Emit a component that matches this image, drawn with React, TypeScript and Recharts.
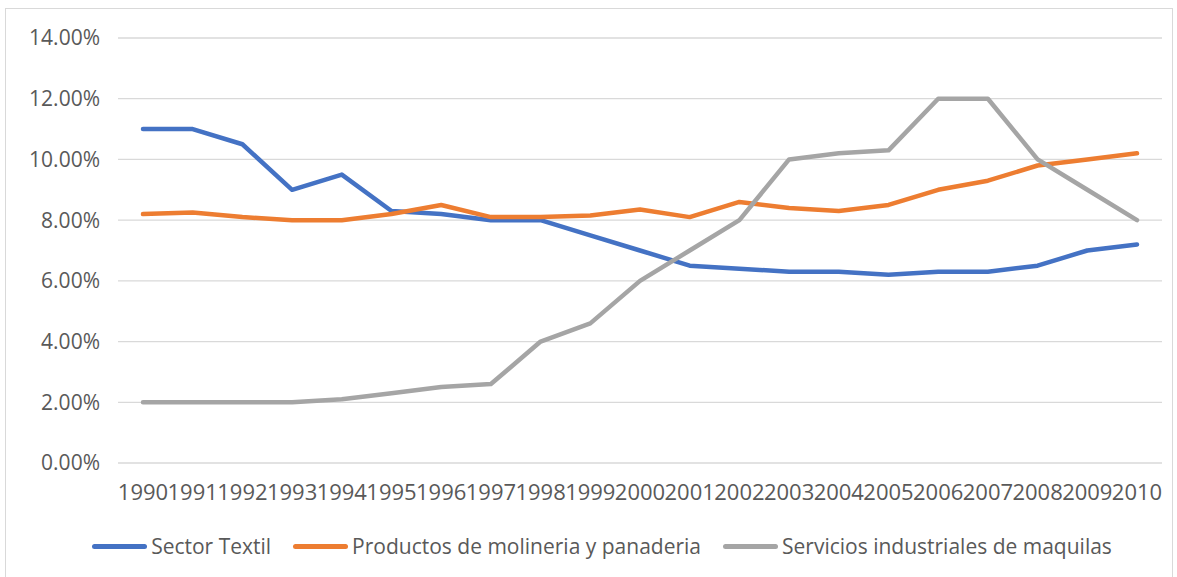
import React from 'react';
import { LineChart, Line, XAxis, YAxis, CartesianGrid, Legend } from 'recharts';

const years = ['1990', '1991', '1992', '1993', '1994', '1995', '1996', '1997', '1998', '1999', '2000',
  '2001', '2002', '2003', '2004', '2005', '2006', '2007', '2008', '2009', '2010'];

const sectorTextil = [11.0, 11.0, 10.5, 9.0, 9.5, 8.3, 8.2, 8.0, 8.0, 7.5, 7.0, 6.5, 6.4, 6.3, 6.3, 6.2, 6.3, 6.3, 6.5, 7.0, 7.2];
const molineria = [8.2, 8.25, 8.1, 8.0, 8.0, 8.2, 8.5, 8.1, 8.1, 8.15, 8.35, 8.1, 8.6, 8.4, 8.3, 8.5, 9.0, 9.3, 9.8, 10.0, 10.2];
const maquilas = [2.0, 2.0, 2.0, 2.0, 2.1, 2.3, 2.5, 2.6, 4.0, 4.6, 6.0, 7.0, 8.0, 10.0, 10.2, 10.3, 12.0, 12.0, 10.0, 9.0, 8.0];

const yTicks = [0, 2, 4, 6, 8, 10, 12, 14];

const series = [
  { key: 'textil', name: 'Sector Textil', color: '#4472C4' },
  { key: 'molineria', name: 'Productos de molineria y panaderia', color: '#ED7D31' },
  { key: 'maquilas', name: 'Servicios industriales de maquilas', color: '#A5A5A5' },
];

const data = years.map((year, i) => ({
  year,
  textil: sectorTextil[i],
  molineria: molineria[i],
  maquilas: maquilas[i],
}));

const FONT = '"Open Sans", sans-serif';
const TEXT = '#595959';

const renderLegend = () => (
  <div style={{ display: 'flex', justifyContent: 'center', alignItems: 'center', height: 40, paddingLeft: 36, fontFamily: FONT, fontSize: 21, color: TEXT, gap: 22 }}>
    {series.map((s) => (
      <div key={s.key} style={{ display: 'flex', alignItems: 'center' }}>
        <div style={{ width: 55, height: 5, borderRadius: 3, background: s.color, marginRight: 4 }} />
        <span>{s.name}</span>
      </div>
    ))}
  </div>
);

export default function App() {
  return (
    <div style={{ position: 'absolute', left: 5, top: 8, width: 1168, height: 575, border: '1px solid #d9d9d9', boxSizing: 'border-box', background: '#fff' }}>
      <LineChart width={1166} height={573} data={data} margin={{ top: 29, right: 10, bottom: 16, left: 0 }}>
        <CartesianGrid vertical={false} stroke="#d9d9d9" strokeWidth={1.3} />
        <XAxis
          dataKey="year"
          height={63}
          axisLine={false}
          tickLine={false}
          interval={0}
          padding={{ left: 25, right: 25 }}
          tick={{ fill: TEXT, fontSize: 22, fontFamily: FONT }}
          tickMargin={15}
        />
        <YAxis
          width={112}
          domain={[0, 14]}
          ticks={yTicks}
          axisLine={false}
          tickLine={false}
          tickFormatter={(v: number) => `${v.toFixed(2)}%`}
          tick={{ fill: TEXT, fontSize: 21, fontFamily: FONT }}
          tickMargin={12}
        />
        {series.map((s) => (
          <Line
            key={s.key}
            type="linear"
            dataKey={s.key}
            name={s.name}
            stroke={s.color}
            strokeWidth={4.5}
            strokeLinecap="round"
            strokeLinejoin="round"
            dot={false}
            isAnimationActive={false}
          />
        ))}
        <Legend verticalAlign="bottom" height={40} content={renderLegend} />
      </LineChart>
    </div>
  );
}
